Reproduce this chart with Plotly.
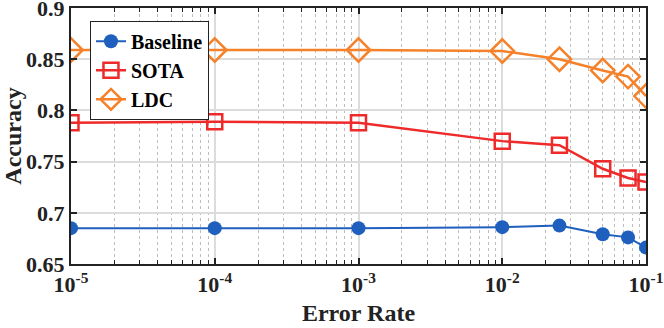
import plotly.graph_objects as go

# error rates on the x axis (log scale)
error_rate = [1e-5, 1e-4, 1e-3, 1e-2, 2.5e-2, 5e-2, 7.5e-2, 1e-1]

# accuracy per method
baseline = [0.685, 0.685, 0.685, 0.686, 0.6875, 0.679, 0.676, 0.666]
sota = [0.788, 0.789, 0.788, 0.770, 0.766, 0.743, 0.734, 0.730]
ldc = [0.859, 0.859, 0.859, 0.858, 0.850, 0.839, 0.833, 0.814]

x_tickvals = [1e-5, 1e-4, 1e-3, 1e-2, 1e-1]
x_ticktext = ["10<sup>-5</sup>", "10<sup>-4</sup>", "10<sup>-3</sup>", "10<sup>-2</sup>", "10<sup>-1</sup>"]
x_minor = [m * d for d in [1e-5, 1e-4, 1e-3, 1e-2] for m in range(2, 10)]
y_tickvals = [0.65, 0.7, 0.75, 0.8, 0.85, 0.9]
y_ticktext = ["0.65", "0.7", "0.75", "0.8", "0.85", "0.9"]

FONT = "Liberation Serif"
INK = "#222222"

fig = go.Figure()

fig.add_trace(go.Scatter(x=error_rate, y=baseline, name="<b>Baseline</b>", mode="lines+markers",
                         line=dict(color="#1f5fbd", width=2),
                         marker=dict(symbol="circle", size=14, color="#1f5fbd")))
fig.add_trace(go.Scatter(x=error_rate, y=sota, name="<b>SOTA</b>", mode="lines+markers",
                         line=dict(color="#ee2a2a", width=2.5),
                         marker=dict(symbol="square-open", size=15, color="#ee2a2a", line=dict(width=2.5))))
fig.add_trace(go.Scatter(x=error_rate, y=ldc, name="<b>LDC</b>", mode="lines+markers",
                         line=dict(color="#f5822a", width=2.5),
                         marker=dict(symbol="diamond-open", size=18, color="#f5822a", line=dict(width=2.5))))

fig.update_layout(
    width=664, height=328,
    margin=dict(l=71, r=18, t=8, b=64, autoexpand=False),
    plot_bgcolor="white", paper_bgcolor="white",
    font=dict(family=FONT, size=22, color=INK),
    legend=dict(x=0.033, y=0.95, xanchor="left", yanchor="top",
                bgcolor="white", bordercolor=INK, borderwidth=1,
                font=dict(family=FONT, size=20, color="black"),
                itemwidth=30, tracegroupgap=0),
)

fig.update_xaxes(
    type="log", range=[-5, -1], automargin=False,
    tickvals=x_tickvals, ticktext=["<b>%s</b>" % t for t in x_ticktext],
    tickfont=dict(family=FONT, size=22, color=INK), ticklabeloverflow="allow",
    title=dict(text="<b>Error Rate</b>", font=dict(family=FONT, size=24, color=INK), standoff=8),
    showline=True, linecolor=INK, linewidth=2, mirror="allticks",
    ticks="inside", ticklen=6, tickwidth=1.5, tickcolor=INK,
    showgrid=True, gridcolor="#dcdcdc", gridwidth=1.5,
    minor=dict(tickvals=x_minor, ticks="inside", ticklen=4, tickcolor=INK, tickwidth=1,
               showgrid=True, gridcolor="#bdbdbd", griddash="dot", gridwidth=1),
    zeroline=False,
)
fig.update_yaxes(
    range=[0.65, 0.90002], automargin=False,
    tickvals=y_tickvals, ticktext=["<b>%s</b>" % t for t in y_ticktext],
    tickfont=dict(family=FONT, size=22, color=INK), ticklabeloverflow="allow",
    title=dict(text="<b>Accuracy</b>", font=dict(family=FONT, size=24, color=INK), standoff=0),
    showline=True, linecolor=INK, linewidth=2, mirror="allticks",
    ticks="inside", ticklen=6, tickwidth=1.5, tickcolor=INK,
    showgrid=True, gridcolor="#dcdcdc", gridwidth=1.5,
    zeroline=False,
)

# drop the default page margin so the 664x328 figure fills the window
fig.write_html("out.html", config={"displayModeBar": False},
               post_script="document.body.style.margin = '0';")
